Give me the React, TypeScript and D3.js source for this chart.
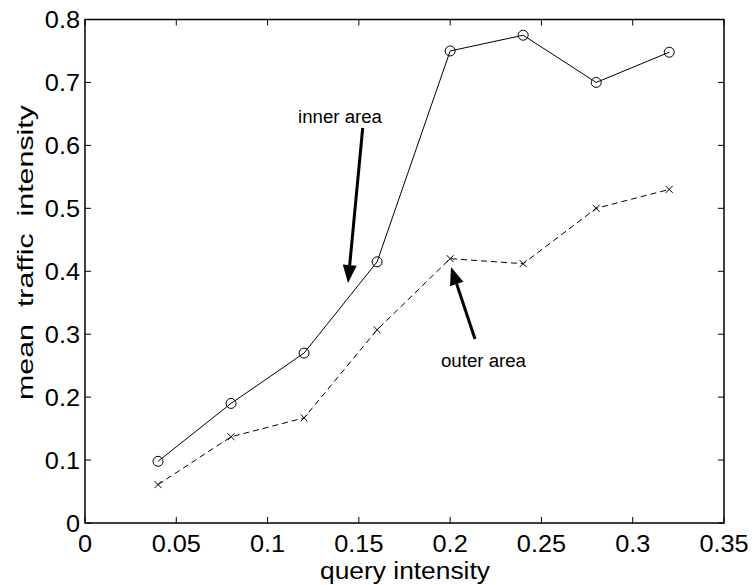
import React from "react";
import * as d3 from "d3";

const queryIntensity = [0.04, 0.08, 0.12, 0.16, 0.2, 0.24, 0.28, 0.32];
const innerArea = [0.098, 0.19, 0.27, 0.415, 0.75, 0.775, 0.7, 0.748];
const outerArea = [0.061, 0.137, 0.167, 0.307, 0.42, 0.412, 0.5, 0.53];
const xTicks = [0, 0.05, 0.1, 0.15, 0.2, 0.25, 0.3, 0.35];
const yTicks = [0, 0.1, 0.2, 0.3, 0.4, 0.5, 0.6, 0.7, 0.8];

const W = 753;
const H = 585;
const left = 85;
const right = 724;
const top = 19.5;
const bottom = 523;
const font = "'Liberation Sans', Arial, Helvetica, sans-serif";
const tickFont = 23;
const stretch = 1.1;

// Horizontally widened label, anchored at (x, y)
function WideText(props: {
  x: number;
  y: number;
  size: number;
  anchor: "start" | "middle" | "end";
  children: string;
}) {
  return (
    <text
      transform={`translate(${props.x},${props.y}) scale(${stretch},1)`}
      fontSize={props.size}
      textAnchor={props.anchor}
      fill="#000"
    >
      {props.children}
    </text>
  );
}

export default function App() {
  const x = d3.scaleLinear().domain([0, 0.35]).range([left, right]);
  const y = d3.scaleLinear().domain([0, 0.8]).range([bottom, top]);
  const line = d3
    .line<number>()
    .x((_, i) => x(queryIntensity[i]))
    .y((d) => y(d));

  const tickLen = 6;

  const arrow = (x1: number, y1: number, x2: number, y2: number, key: string) => {
    const ang = Math.atan2(y2 - y1, x2 - x1);
    const hl = 18;
    const hw = 7;
    const bx = x2 - hl * Math.cos(ang);
    const by = y2 - hl * Math.sin(ang);
    const px = -Math.sin(ang) * hw;
    const py = Math.cos(ang) * hw;
    return (
      <g key={key}>
        <line x1={x1} y1={y1} x2={bx} y2={by} stroke="#000" strokeWidth={3} />
        <path d={`M${x2},${y2} L${bx + px},${by + py} L${bx - px},${by - py} Z`} fill="#000" />
      </g>
    );
  };

  return (
    <svg
      width={W}
      height={H}
      style={{ position: "absolute", left: 0, top: 0, background: "#fff" }}
      fontFamily={font}
    >
      <rect x={0} y={0} width={W} height={H} fill="#fff" />
      {/* ticks and tick labels */}
      {xTicks.map((t) => (
        <g key={"xt" + t}>
          <line x1={x(t)} x2={x(t)} y1={bottom} y2={bottom - tickLen} stroke="#000" strokeWidth={1} />
          <line x1={x(t)} x2={x(t)} y1={top} y2={top + tickLen} stroke="#000" strokeWidth={1} />
          <WideText x={x(t)} y={bottom + 29} size={tickFont} anchor="middle">
            {String(t)}
          </WideText>
        </g>
      ))}
      {yTicks.map((t) => (
        <g key={"yt" + t}>
          <line x1={left} x2={left + tickLen} y1={y(t)} y2={y(t)} stroke="#000" strokeWidth={1} />
          <line x1={right} x2={right - tickLen} y1={y(t)} y2={y(t)} stroke="#000" strokeWidth={1} />
          <WideText x={left - 5} y={y(t) + 8.5} size={tickFont} anchor="end">
            {String(t)}
          </WideText>
        </g>
      ))}
      <rect
        x={left}
        y={top}
        width={right - left}
        height={bottom - top}
        fill="none"
        stroke="#000"
        strokeWidth={1.5}
      />
      {/* series */}
      <path d={line(innerArea) || ""} fill="none" stroke="#000" strokeWidth={1} />
      <path
        d={line(outerArea) || ""}
        fill="none"
        stroke="#000"
        strokeWidth={1}
        strokeDasharray="6,4"
      />
      {innerArea.map((v, i) => (
        <circle
          key={"c" + i}
          cx={x(queryIntensity[i])}
          cy={y(v)}
          r={5}
          fill="none"
          stroke="#000"
          strokeWidth={1}
        />
      ))}
      {outerArea.map((v, i) => {
        const cx = x(queryIntensity[i]);
        const cy = y(v);
        const s = 3.5;
        return (
          <path
            key={"x" + i}
            d={`M${cx - s},${cy - s} L${cx + s},${cy + s} M${cx - s},${cy + s} L${cx + s},${cy - s}`}
            stroke="#000"
            strokeWidth={1}
          />
        );
      })}
      {/* annotations */}
      <text
        x={298}
        y={123}
        fontSize={18}
        textLength={84}
        lengthAdjust="spacingAndGlyphs"
        fill="#000"
      >
        inner area
      </text>
      {arrow(362.7, 128, 348, 283, "a1")}
      <text
        x={441}
        y={367}
        fontSize={18}
        textLength={85}
        lengthAdjust="spacingAndGlyphs"
        fill="#000"
      >
        outer area
      </text>
      {arrow(475, 339, 451, 267, "a2")}
      {/* axis labels */}
      <text
        x={320}
        y={579}
        fontSize={23}
        textLength={170}
        lengthAdjust="spacingAndGlyphs"
        fill="#000"
      >
        query intensity
      </text>
      <text
        transform={`translate(33, 400) rotate(-90)`}
        fontSize={22}
        textLength={295}
        lengthAdjust="spacingAndGlyphs"
        fill="#000"
        style={{ whiteSpace: "pre" }}
      >
        {"mean  traffic  intensity"}
      </text>
    </svg>
  );
}
